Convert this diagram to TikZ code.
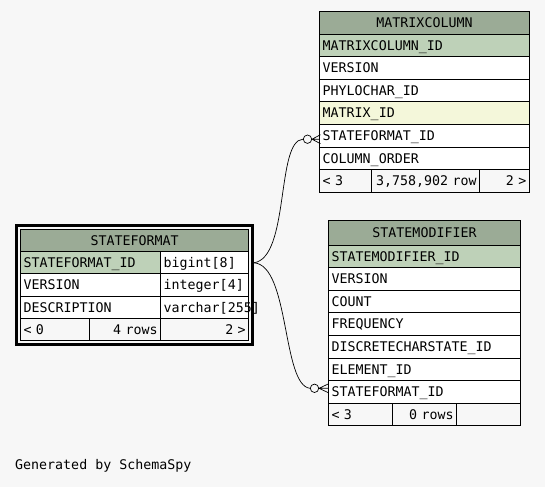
\documentclass[tikz,border=0pt]{standalone}
\usepackage{fontspec}
\newfontfamily\schemafont{DejaVu Sans Mono}
\usepackage{tikz}
\usetikzlibrary{positioning,fit}
\definecolor{headgreen}{HTML}{9BAB96}
\definecolor{pkgreen}{HTML}{BED1B8}
\definecolor{idxyellow}{HTML}{F4F7DA}
\definecolor{bggray}{HTML}{F7F7F7}
\tikzset{
	cell/.style={draw=black,line width=0.9pt,fill=white,rectangle,anchor=north west,outer sep=0pt,
		inner xsep=3pt,inner ysep=0pt,minimum height=22.6pt,text height=9.7pt,text depth=0pt,
		align=left,text width=#1,font=\schemafont\fontsize{13.3}{15}\selectfont},
	head/.style={fill=headgreen,align=center},
	pkey/.style={fill=pkgreen},
	idx/.style={fill=idxyellow},
	foot/.style={fill=bggray},
	sfrow/.style={minimum height=22.2pt},
	odot/.style={circle,draw=black,line width=0.7pt,fill=bggray,minimum size=8.4pt,inner sep=0pt},
	link/.style={draw=black,line width=0.7pt}
}

\begin{document}
\begin{tikzpicture}[x=1pt,y=-1pt]
	
	\fill[bggray] (0,0) rectangle (545,487);
	\useasboundingbox (0,0) rectangle (545,487);

	\node[cell=203.6pt,head,minimum height=23pt] (mc-head) at (319.7,11){MATRIXCOLUMN};
	\node[cell=203.6pt,pkey] (mc-id) at (mc-head.south west){MATRIXCOLUMN\_ID};
	\node[cell=203.6pt] (mc-ver) at (mc-id.south west){VERSION};
	\node[cell=203.6pt] (mc-phy) at (mc-ver.south west){PHYLOCHAR\_ID};
	\node[cell=203.6pt,idx] (mc-mat) at (mc-phy.south west){MATRIX\_ID};
	\node[cell=203.6pt] (mc-sf) at (mc-mat.south west){STATEFORMAT\_ID};
	\node[cell=203.6pt] (mc-ord) at (mc-sf.south west){COLUMN\_ORDER};
	\node[cell=45.5pt,foot] (mc-f1) at (mc-ord.south west){< 3};
	\node[cell=102.5pt,foot,align=right] (mc-f2) at (mc-f1.north east){3,758,902 row};
	\node[cell=43.6pt,foot,align=right] (mc-f3) at (mc-f2.north east){2 >};

	\node[cell=222.2pt,head,sfrow] (sf-head) at (20.5,229.5){STATEFORMAT};
	\node[cell=134.2pt,pkey,sfrow] (sf-id) at (sf-head.south west){STATEFORMAT\_ID};
	\node[cell=82pt,sfrow] (sf-id-type) at (sf-id.north east){bigint[8]};
	\node[cell=134.2pt,sfrow] (sf-ver) at (sf-id.south west){VERSION};
	\node[cell=82pt,sfrow] (sf-ver-type) at (sf-ver.north east){integer[4]};
	\node[cell=134.2pt,sfrow] (sf-desc) at (sf-ver.south west){DESCRIPTION};
	\node[cell=82pt,sfrow] (sf-desc-type) at (sf-desc.north east){varchar[255]};
	\node[cell=62.8pt,foot,sfrow] (sf-f1) at (sf-desc.south west){< 0};
	\node[cell=65.4pt,foot,sfrow,align=right] (sf-f2) at (sf-f1.north east){4 rows};
	\node[cell=82pt,foot,sfrow,align=right] (sf-f3) at (sf-f2.north east){2 >};
	\node[fit=(sf-head)(sf-f3),draw=black,line width=3pt,inner sep=3.6pt] (sf-frame){};

	\node[cell=186pt,head,minimum height=24.5pt] (sm-head) at (328.5,220.5){STATEMODIFIER};
	\node[cell=186pt,pkey] (sm-id) at (sm-head.south west){STATEMODIFIER\_ID};
	\node[cell=186pt] (sm-ver) at (sm-id.south west){VERSION};
	\node[cell=186pt] (sm-cnt) at (sm-ver.south west){COUNT};
	\node[cell=186pt] (sm-freq) at (sm-cnt.south west){FREQUENCY};
	\node[cell=186pt] (sm-dcs) at (sm-freq.south west){DISCRETECHARSTATE\_ID};
	\node[cell=186pt] (sm-elem) at (sm-dcs.south west){ELEMENT\_ID};
	\node[cell=186pt] (sm-sf) at (sm-elem.south west){STATEFORMAT\_ID};
	\node[cell=58.2pt,foot] (sm-f1) at (sm-sf.south west){< 3};
	\node[cell=58pt,foot,align=right] (sm-f2) at (sm-f1.north east){0 rows};
	\node[cell=57.8pt,foot] (sm-f3) at (sm-f2.north east){};

	\node[odot] (mc-odot) at (307.5,139.2){};
	\node[odot] (sm-odot) at (314.5,388.3){};

	\draw[link] (sf-frame.east |- sf-id-type) .. controls +(36,-5) and +(-27,1) .. (mc-odot.west);
	\draw[link] (mc-odot.east) -- (mc-sf.west |- mc-odot) (mc-odot.east) -- ++(8.4,-4.5) (mc-odot.east) -- ++(8.4,4.5);
	\draw[link] (sf-frame.east |- sf-id-type) .. controls +(36,2) and +(-28,-3) .. (sm-odot.west);
	\draw[link] (sm-odot.east) -- (sm-sf.west |- sm-odot) (sm-odot.east) -- ++(9.5,-4.5) (sm-odot.east) -- ++(9.5,4.5);

	\node[anchor=base west,inner sep=0pt,font=\schemafont\fontsize{13.3}{15}\selectfont] (credit) at (15,469.3){Generated by SchemaSpy};
\end{tikzpicture}
\end{document}
